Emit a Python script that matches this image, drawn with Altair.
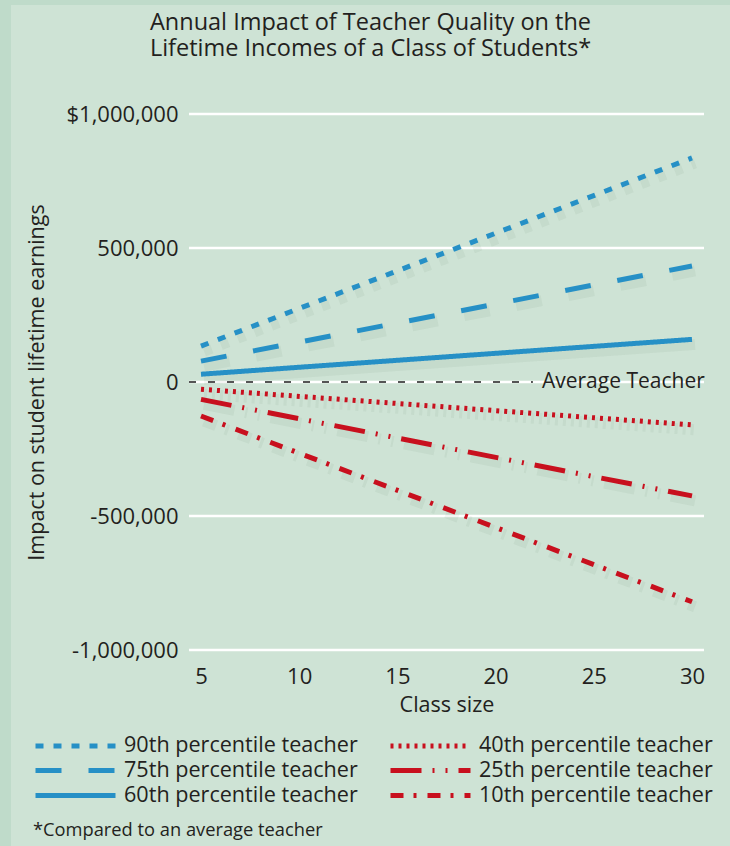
import altair as alt
import pandas as pd

# ---- data ----
class_size = [5, 30]
series = ["90th percentile teacher", "75th percentile teacher", "60th percentile teacher",
          "40th percentile teacher", "25th percentile teacher", "10th percentile teacher"]
start_vals = [134000, 78000, 29000, -27000, -65000, -127000]
end_vals = [836000, 433000, 159000, -160000, -425000, -820000]

y_ticks = [-1000000, -500000, 0, 500000, 1000000]
x_ticks = [5, 10, 15, 20, 25, 30]

rows = []
for s, a, b in zip(series, start_vals, end_vals):
    rows.append({"series": s, "size": class_size[0], "impact": a})
    rows.append({"series": s, "size": class_size[1], "impact": b})
df = pd.DataFrame(rows)

BLUE = "#2690c6"
RED = "#c8101e"
TEXT = "#231f20"
PANEL = "#cee3d5"
OUTER = "#bfdbca"
FONT = "Open Sans"

legend_order = series  # legend fills column by column
color_range = [BLUE, BLUE, BLUE, RED, RED, RED]
dash_range = [[8, 10], [26, 27], [1, 0], [3, 5], [31, 11, 2, 11, 2, 11], [13, 10, 3, 11]]

W, H = 515, 536
XDOM = [4.389, 30.611]
YDOM = [-1000000, 1000000]

xscale = alt.Scale(domain=XDOM, nice=False, zero=False)
yscale = alt.Scale(domain=YDOM, nice=False)

legend = alt.Legend(
    orient="none", legendX=-126, legendY=619, columns=2, title=None,
    symbolType="M-4,0H4", symbolSize=400, symbolStrokeWidth=5,
    labelFontSize=21.6, labelFont=FONT, labelColor=TEXT, labelOffset=36, labelLimit=400,
    columnPadding=22, rowPadding=1, symbolOpacity=1, zindex=2, padding=0,
)
color_scale = alt.Scale(domain=legend_order, range=color_range)
dash_scale = alt.Scale(domain=legend_order, range=dash_range)

# background panel (decorative)
panel = alt.Chart(pd.DataFrame({"k": [0]})).mark_rect(color=PANEL).encode(
    x=alt.value(-178), x2=alt.value(W + 26), y=alt.value(-109), y2=alt.value(H + 196)
)

# horizontal gridlines
grid_df = pd.DataFrame({"y": y_ticks, "x0": [XDOM[0]] * len(y_ticks), "x1": [XDOM[1]] * len(y_ticks)})
grid = alt.Chart(grid_df).mark_rule(color="white", strokeWidth=2.5).encode(
    x=alt.X("x0:Q", scale=xscale), x2="x1:Q", y=alt.Y("y:Q", scale=yscale)
)

base = alt.Chart(df)

x_enc = alt.X("size:Q", scale=xscale, axis=alt.Axis(
    values=x_ticks, title="Class size", grid=False, domain=False, ticks=False, zindex=2,
    labelFontSize=22, labelFont=FONT, labelColor=TEXT, labelPadding=16,
    titleFontSize=21.5, titleFont=FONT, titleColor=TEXT, titleFontWeight="normal",
    titleY=55, titleBaseline="middle"))
y_enc = alt.Y("impact:Q", scale=yscale, axis=alt.Axis(
    values=y_ticks, title="Impact on student lifetime earnings", grid=False, zindex=2,
    domain=False, ticks=False,
    labelExpr="datum.value == 1000000 ? '$1,000,000' : (datum.value < 0 ? '-' : '') + format(abs(datum.value), ',')",
    labelFontSize=22, labelFont=FONT, labelColor=TEXT, labelPadding=11,
    titleFontSize=21.5, titleFont="Open Sans", titleColor=TEXT, titleFontWeight="normal",
    titleX=-152, titleY=H / 2, titleAngle=-90, titleAlign="center", titleBaseline="middle"))

shadow = base.mark_line(strokeWidth=11, color="#4f6f5c", opacity=0.07, xOffset=3, yOffset=5, strokeCap="butt").encode(
    x=alt.X("size:Q", scale=xscale), y=alt.Y("impact:Q", scale=yscale),
    detail="series:N",
    strokeDash=alt.StrokeDash("series:N", scale=dash_scale, legend=legend),
)

lines = base.mark_line(strokeWidth=5, strokeCap="butt").encode(
    x=x_enc, y=y_enc,
    color=alt.Color("series:N", scale=color_scale, legend=legend),
    strokeDash=alt.StrokeDash("series:N", scale=dash_scale, legend=legend),
)

# average teacher reference
avg_df = pd.DataFrame({"x0": [XDOM[0]], "x1": [21.9], "y": [0], "tx": [22.36], "label": ["Average Teacher"]})
avg_rule = alt.Chart(avg_df).mark_rule(color="#555555", strokeWidth=2, strokeDash=[7, 12]).encode(
    x=alt.X("x0:Q", scale=xscale), x2="x1:Q", y=alt.Y("y:Q", scale=yscale)
)
avg_text = alt.Chart(avg_df).mark_text(align="left", baseline="middle", fontSize=21, font=FONT, color=TEXT).encode(
    x=alt.X("tx:Q", scale=xscale), y=alt.Y("y:Q", scale=yscale), text="label:N"
)

foot_df = pd.DataFrame({"t": ["*Compared to an average teacher"]})
foot = alt.Chart(foot_df).mark_text(align="left", baseline="middle", fontSize=18.3, font=FONT, color=TEXT).encode(
    x=alt.value(-156), y=alt.value(717), text="t:N"
)

chart = alt.layer(panel, grid, shadow, lines, avg_rule, avg_text, foot).properties(
    width=W, height=H,
    padding={"left": 189, "top": 114, "right": 26, "bottom": 196},
    autosize=alt.AutoSizeParams(type="none"),
    background=OUTER,
    title=alt.Title(
        ["Annual Impact of Teacher Quality on the", "Lifetime Incomes of a Class of Students*"],
        fontSize=23.5, font=FONT, color=TEXT, fontWeight="normal", lineHeight=26,
        anchor="middle", frame="bounds", offset=-55),
).configure_view(stroke=None)

chart.save("out.html", embed_options={"renderer": "svg", "actions": False})
